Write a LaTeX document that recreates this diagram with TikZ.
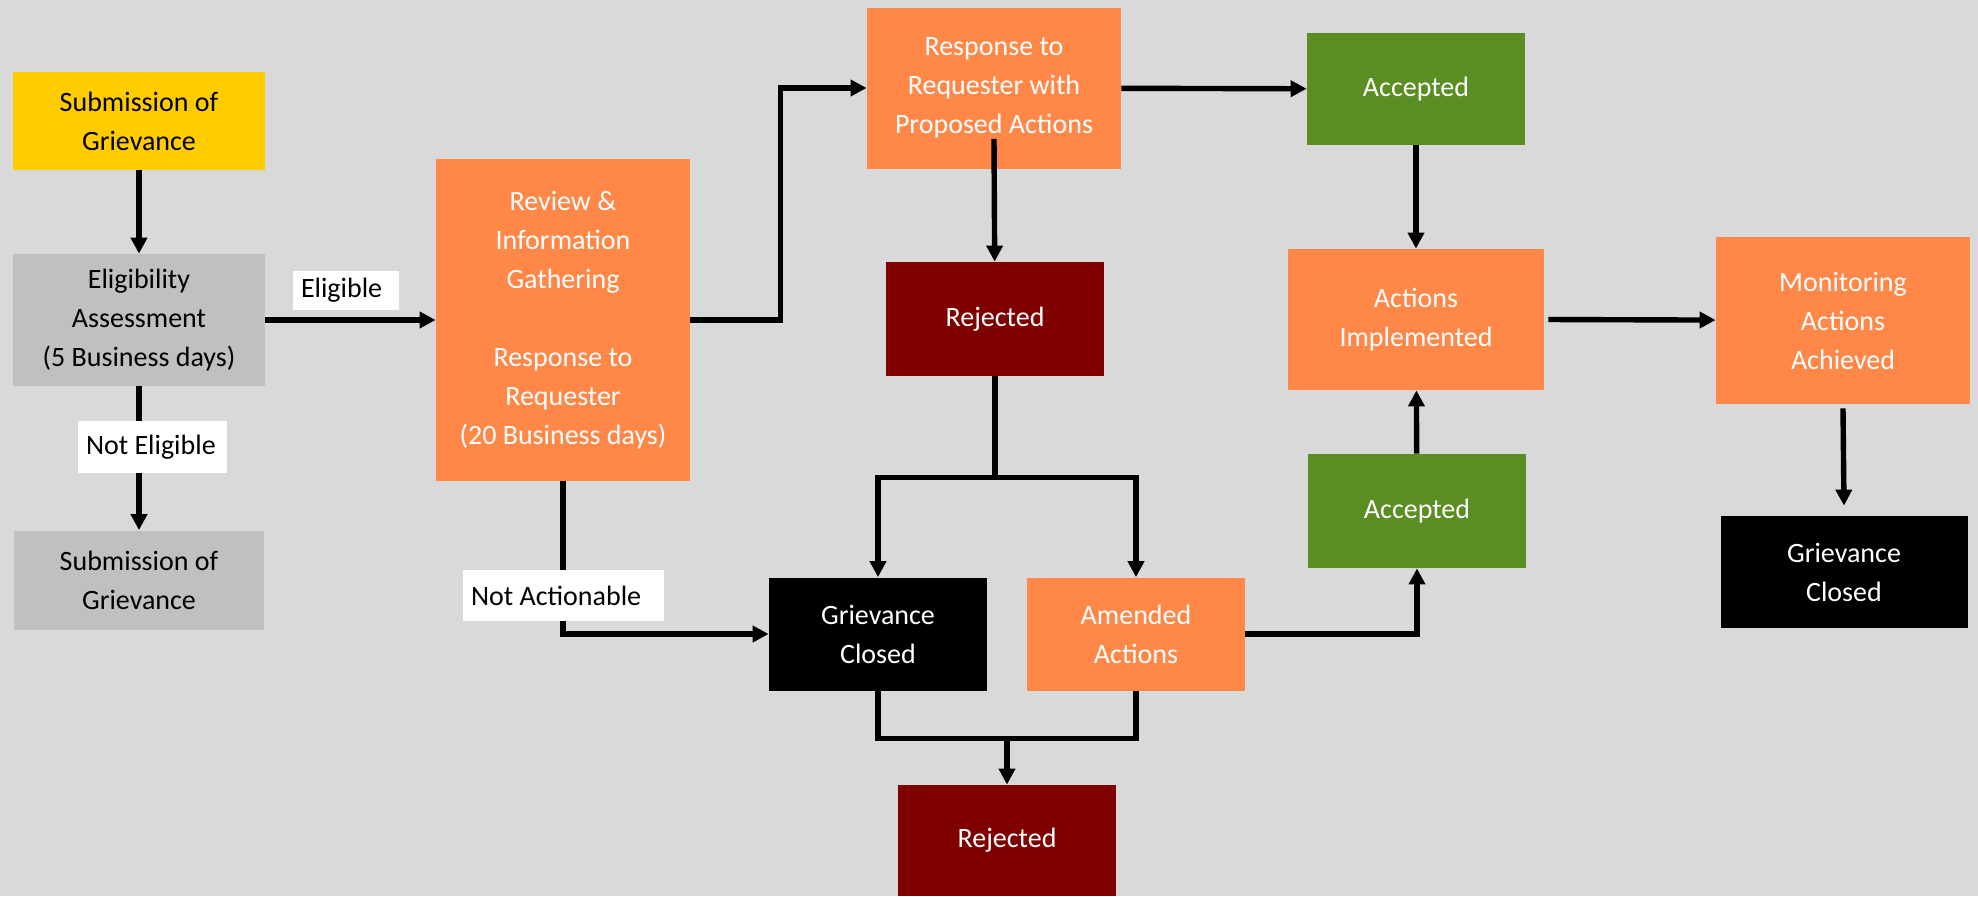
\documentclass[tikz,border=0pt]{standalone}
\usepackage{fontspec}
\setmainfont{Carlito}
\usetikzlibrary{arrows.meta, calc}

\definecolor{bgGray}{HTML}{D9D9D9}
\definecolor{boxGray}{HTML}{C0C0C0}
\definecolor{boxYellow}{HTML}{FFCC00}
\definecolor{boxOrange}{HTML}{FF8849}
\definecolor{boxGreen}{HTML}{5B8E22}
\definecolor{boxRed}{HTML}{7F0000}

\begin{document}
\begin{tikzpicture}[x=0.5pt,y=-0.5pt,line join=miter,
    box/.style={rectangle, inner sep=0pt, align=center, text=white,
        font=\fontsize{14pt}{19.5pt}\selectfont},
    widebox/.style={box, minimum width=127pt},
    smallbox/.style={box, minimum width=109pt},
    lbl/.style={rectangle, fill=white, inner xsep=4pt, inner ysep=0pt, align=flush left,
        font=\fontsize{14pt}{19.5pt}\selectfont},
    flow/.style={line width=2.7pt, -{Triangle[length=8pt,width=8pt]}},
    plain/.style={line width=2.7pt}]

    % canvas
    \fill[bgGray] (0,0) rectangle (1978,896);
    \useasboundingbox (0,0) rectangle (1978,896);

    % left column
    \node[box, fill=boxYellow, text=black, minimum width=126pt, minimum height=49pt] (sub) at (139,121) {Submission of\\Grievance};
    \node[box, fill=boxGray, text=black, minimum width=126pt, minimum height=66pt] (elig) at (139,320) {Eligibility\\Assessment\\(5 Business days)};
    \node[box, fill=boxGray, text=black, minimum width=125pt, minimum height=49.5pt] (subg) at (139,580) {Submission of\\Grievance};

    % review and response
    \node[widebox, fill=boxOrange, minimum height=161pt] (review) at (563,320) {Review \&\\Information\\Gathering\\~\\Response to\\Requester\\(20 Business days)};
    \node[widebox, fill=boxOrange, minimum height=80.5pt] (resp) at (994,88) {Response to\\Requester with\\Proposed Actions};
    \node[smallbox, fill=boxRed, minimum height=57pt] (rej1) at (995,319) {Rejected};
    \node[smallbox, fill=black, minimum height=56.5pt] (closed1) at (878,634) {Grievance\\Closed};
    \node[smallbox, fill=boxOrange, minimum height=56.5pt] (amend) at (1136,634) {Amended\\Actions};
    \node[smallbox, fill=boxRed, minimum height=55.5pt] (rej2) at (1007,840.5) {Rejected};

    % right part
    \node[smallbox, fill=boxGreen, minimum height=56pt] (acc1) at (1416,89) {Accepted};
    \node[box, fill=boxOrange, minimum width=128pt, minimum height=70.5pt] (impl) at (1416,319.5) {Actions\\Implemented};
    \node[smallbox, fill=boxGreen, minimum height=57pt] (acc2) at (1417,511) {Accepted};
    \node[widebox, fill=boxOrange, minimum height=83.5pt] (mon) at (1843,320.5) {Monitoring\\Actions\\Achieved};
    \node[box, fill=black, minimum width=123.5pt, minimum height=56pt] (closed2) at (1844,572) {Grievance\\Closed};

    % connectors
    \draw[flow] (sub) -- (elig);
    \draw[flow] (elig) -- (review);
    \draw[flow] (elig) -- (subg);
    \draw[flow] (review.east) -- ++(90,0) |- (resp.west);
    \draw[flow] (resp) -- (acc1);
    \draw[flow] ([yshift=15pt]resp.south) -- (rej1);
    \draw[flow] (review.south) |- (closed1.west);

    \coordinate (split) at ([yshift=-50.5pt]rej1.south);
    \draw[plain] (rej1.south) -- (split);
    \draw[flow] (split) -| (closed1.north);
    \draw[flow] (split) -| (amend.north);

    \coordinate (join) at ([yshift=23pt]rej2.north);
    \draw[plain] (closed1.south) |- (join) -| (amend.south);
    \draw[flow] (join) -- (rej2);

    \draw[flow] (amend.east) -| (acc2.south);
    \draw[flow] (acc2) -- (impl);
    \draw[flow] (acc1) -- (impl);
    \draw[flow] ([xshift=2pt]impl.east) -- (mon);
    \draw[flow] ([yshift=-2pt]mon.south) -- ([yshift=5pt]closed2.north);

    % labels on the lines
    \node[lbl, text width=45pt, minimum height=19.5pt] (eligible) at (346,290) {Eligible};
    \node[lbl, text width=66.5pt, minimum height=26pt] (noteligible) at (152.5,447) {Not Eligible};
    \node[lbl, text width=92.5pt, minimum height=25.5pt] (notaction) at (563.5,595.5) {Not Actionable};

\end{tikzpicture}
\end{document}
